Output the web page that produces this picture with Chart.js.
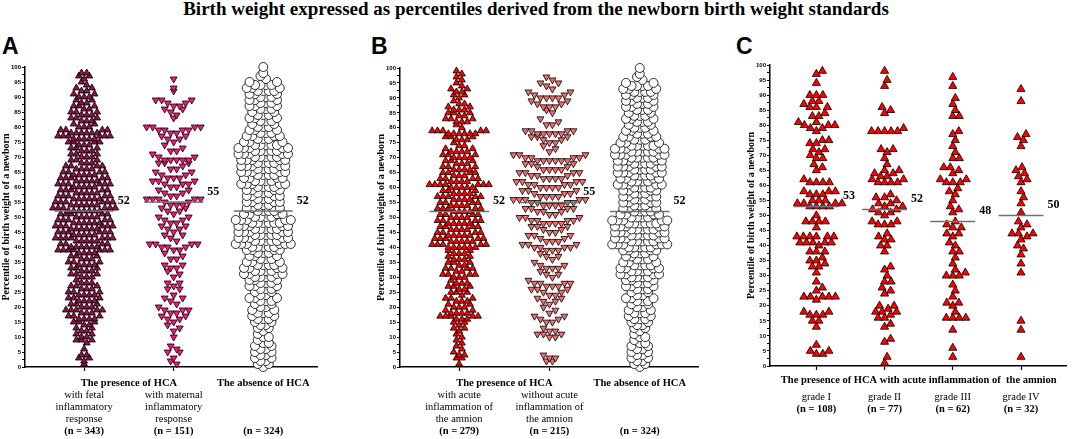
<!DOCTYPE html>
<html>
<head>
<meta charset="utf-8">
<title>Birth weight percentiles</title>
<script src="https://cdn.jsdelivr.net/npm/chart.js@4.4.1/dist/chart.umd.min.js"></script>
<style>
  html, body { margin: 0; padding: 0; background: #fff; }
  body { position: relative; width: 1072px; height: 439px; overflow: hidden; }
  #title { position: absolute; left: 0; top: -1px; width: 1072px; text-align: center;
           font: bold 19px/19px "Liberation Serif", serif; color: #000; white-space: nowrap; }
  .letter { position: absolute; top: 35px; font: bold 23px/23px "Liberation Sans", Arial, sans-serif; color: #000; }
  canvas { position: absolute; top: 30px; }
</style>
</head>
<body>
<div id="title">Birth weight expressed as percentiles derived from the newborn birth weight standards</div>
<div class="letter" style="left:2px">A</div>
<div class="letter" style="left:371px">B</div>
<div class="letter" style="left:736px">C</div>
<canvas id="panelA" width="357" height="409" style="left:0px"></canvas>
<canvas id="panelB" width="357" height="409" style="left:357px"></canvas>
<canvas id="panelC" width="358" height="409" style="left:714px"></canvas>
<script>
// percentiles, one value per newborn
const fetalInflammatory = [
  1,2,3,3,4,4,
  6,8,9,9,9,
  10,10,11,11,12,12,13,13,14,14,
  15,15,15,16,16,16,16,17,17,17,18,18,18,19,19,19,19,19,
  20,20,20,21,21,21,22,22,22,22,23,23,23,24,24,24,24,
  25,25,25,26,26,26,27,27,27,28,28,28,29,
  30,30,30,31,31,31,32,32,32,33,33,33,34,34,34,34,
  35,35,35,36,36,36,37,37,37,38,38,38,38,39,39,39,39,39,39,39,
  40,40,40,40,40,40,41,41,41,41,42,42,42,42,42,43,43,43,43,43,43,43,44,44,44,44,44,
  45,45,45,45,45,45,46,46,46,46,46,46,47,47,47,47,47,47,48,48,48,48,48,48,49,49,49,49,49,
  50,50,50,50,50,51,51,51,51,51,52,52,52,52,52,52,52,53,53,53,53,53,53,54,54,54,54,54,54,
  55,55,55,55,55,55,56,56,56,56,56,56,57,57,57,57,57,58,58,58,58,58,59,59,59,59,59,
  60,60,60,60,60,61,61,61,61,61,61,62,62,62,62,62,63,63,63,63,63,64,64,64,64,64,
  65,65,65,65,66,66,66,66,67,67,67,67,68,68,68,69,69,69,
  70,70,70,71,71,71,72,72,72,73,73,73,74,74,74,
  75,75,75,75,76,76,76,76,76,77,77,77,77,77,77,78,78,78,78,78,78,79,79,79,79,
  80,80,80,81,81,82,82,82,83,83,83,84,84,84,
  85,85,85,86,86,87,87,87,88,88,89,89,
  90,90,90,91,91,92,92,93,93,94,
  95,96,97,97,98,98
];
const maternalInflammatory = [
  1,2,3,5,5,6,7,
  10,12,13,14,
  15,16,16,17,17,18,18,19,19,19,
  20,21,22,23,23,24,
  26,26,27,28,28,
  30,31,32,33,33,34,34,
  36,36,37,38,39,39,
  40,40,40,41,41,41,41,42,43,44,44,
  45,46,46,47,47,48,48,49,49,
  50,50,51,52,52,53,53,54,54,54,
  55,55,56,56,56,56,56,57,57,58,58,59,59,
  60,60,61,61,61,62,62,62,63,63,63,64,64,
  65,65,66,66,67,68,68,68,69,69,69,69,69,
  70,70,71,72,72,73,74,
  75,76,76,77,77,78,78,79,79,79,79,
  80,80,80,80,83,84,
  85,86,86,87,87,88,88,89,89,89,
  92,93,96
];
const absenceOfHCA = [
  0,1,1,2,2,3,3,4,4,
  5,5,6,6,7,7,8,8,9,
  10,10,11,12,13,13,14,14,
  15,15,16,16,16,17,17,18,18,18,19,19,
  20,20,21,21,22,22,22,23,23,23,24,24,
  25,25,26,26,26,27,27,27,28,28,28,29,29,29,
  30,30,30,30,31,31,31,31,32,32,32,32,33,33,33,33,34,34,34,34,
  35,35,35,36,36,36,37,37,37,38,38,38,39,39,39,39,
  40,40,40,40,40,41,41,41,41,41,41,42,42,42,42,42,43,43,43,43,43,44,44,44,44,44,
  45,45,45,45,45,46,46,46,46,46,47,47,47,47,47,48,48,48,48,48,48,49,49,49,49,49,
  50,50,50,50,51,51,51,51,52,52,52,52,53,53,53,54,54,54,
  55,55,55,55,56,56,56,57,57,57,57,58,58,58,59,59,59,59,
  60,60,60,60,61,61,61,61,61,62,62,62,62,63,63,63,63,64,64,64,64,
  65,65,65,65,65,66,66,66,66,67,67,67,67,67,68,68,68,68,69,69,69,69,69,
  70,70,70,70,70,71,71,71,71,71,72,72,72,72,72,73,73,73,73,73,74,74,74,74,74,
  75,75,75,76,76,76,77,77,77,77,78,78,78,79,79,79,
  80,80,80,81,81,82,82,82,83,83,83,84,84,84,
  85,85,86,86,86,87,87,87,88,88,88,89,89,89,
  90,90,90,91,91,91,92,92,92,92,93,93,93,94,94,94,94,
  95,95,96,97,98,100
];
const withAcuteAmnion = [
  1,3,3,4,4,
  5,6,7,8,9,
  10,11,12,13,13,14,
  15,15,16,16,16,17,17,17,17,17,18,18,18,18,19,19,
  20,20,20,21,21,22,22,22,23,23,23,24,
  25,25,25,26,26,27,27,27,28,28,28,29,
  30,30,30,31,31,31,31,32,32,33,33,33,33,34,34,
  35,35,35,36,36,36,37,37,38,38,38,39,39,
  40,40,40,40,40,40,41,41,41,41,41,42,42,42,42,42,43,43,43,43,43,44,44,44,44,44,
  45,45,45,45,46,46,46,46,47,47,47,47,48,48,48,48,48,49,49,49,49,
  50,50,50,50,51,51,51,51,
  52,52,52,52,53,53,53,53,53,54,54,54,54,
  55,55,55,55,56,56,56,56,57,57,57,57,57,58,58,58,58,59,59,59,
  60,60,60,60,60,61,61,61,61,61,61,61,62,62,62,62,63,63,63,63,64,64,64,
  65,65,65,65,66,66,66,66,67,67,67,68,68,68,69,69,69,
  70,70,70,70,71,71,71,72,72,72,72,73,73,74,74,
  75,76,76,76,77,77,77,78,78,78,78,78,78,79,79,79,79,79,
  80,81,82,82,82,83,83,83,84,84,
  85,85,85,86,86,86,87,87,88,88,89,
  90,91,91,92,92,93,93,94,
  95,96,97,98,99
];
const withoutAcuteAmnion = [
  2,2,3,3,4,
  10,10,11,11,11,12,12,13,
  15,15,16,16,17,17,18,19,
  20,21,22,22,23,23,24,24,
  25,25,26,26,26,27,27,27,28,28,28,28,29,
  30,31,31,32,33,33,33,34,34,
  35,36,37,37,38,39,39,39,
  40,40,40,40,41,41,41,42,42,42,43,43,44,44,44,
  45,45,46,46,47,47,47,48,48,48,48,49,49,49,49,
  50,50,50,51,51,52,52,52,53,53,53,53,54,54,54,54,
  55,55,55,55,56,56,56,56,56,57,57,57,57,58,58,58,59,59,59,
  60,60,60,60,61,61,61,61,62,62,62,62,63,63,63,63,64,64,64,
  65,65,65,65,66,66,66,66,67,67,68,68,68,69,69,69,69,69,69,
  70,70,70,70,71,71,71,72,73,74,
  75,75,76,76,77,77,77,78,78,78,78,78,79,79,79,79,
  81,81,82,83,
  85,86,87,87,87,88,88,89,89,
  90,90,90,90,91,91,92,92,93,94,
  95,95,96,97
];
const gradeI = [
  4,4,5,5,7,13,15,15,17,17,17,18,18,22,23,23,23,23,23,25,26,28,
  31,33,33,34,35,35,36,38,38,38,40,41,41,41,41,41,43,43,43,43,43,43,46,48,48,48,48,
  50,53,53,53,53,54,54,54,54,55,55,55,57,57,57,58,58,58,61,61,61,61,62,65,66,67,69,69,
  70,71,72,72,74,74,75,75,78,79,79,80,80,80,81,81,83,83,84,86,86,86,87,88,88,90,90,90,94,97,98
];
const gradeII = [
  1,3,8,9,13,14,16,16,17,18,18,18,19,20,20,24,25,26,28,28,30,32,33,38,40,40,
  42,42,43,44,47,47,47,48,48,50,51,51,52,52,53,53,54,54,55,56,56,57,
  61,61,61,61,62,62,63,63,64,64,65,65,67,69,71,72,72,78,78,78,78,78,79,84,85,86,93,95,98
];
const gradeIII = [
  3,6,12,16,16,16,16,18,20,21,21,23,25,27,30,30,30,31,32,34,36,38,38,40,41,43,44,44,46,46,47,48,
  51,52,53,55,57,58,59,61,61,61,62,62,64,65,66,66,69,69,71,73,75,77,78,83,83,85,87,89,93,96
];
const gradeIV = [
  3,12,15,31,34,37,39,40,42,43,44,44,44,46,47,48,51,54,56,58,61,62,63,64,65,66,73,75,76,77,88,92
];

// medians as printed beside the lines
const mediansA = [52, 55, 52];
const mediansB = [52, 55, 52];
const mediansC = [53, 52, 48, 50];

const yMajorTicks = [0, 5, 10, 15, 20, 25, 30, 35, 40, 45, 50, 55, 60, 65, 70, 75, 80, 85, 90, 95, 100];
const yAxisTitle = 'Percentile of birth weight of a newborn';
const presenceHCA = 'The presence of HCA';
const absenceHCA = 'The absence of HCA';
const presenceAmnion = 'The presence of HCA with acute inflammation of  the amnion';
const labelsA = [['with fetal', 'inflammatory', 'response'], ['with maternal', 'inflammatory', 'response'], []];
const labelsB = [['with acute', 'inflammation of', 'the amnion'], ['without acute', 'inflammation of', 'the amnion'], []];
const labelsC = [['grade I'], ['grade II'], ['grade III'], ['grade IV']];

const medianHalf = 0.33;

const panels = [
  {
    canvas: 'panelA', padLeft: 0, padRight: 40, padTop: 37, axisHeight: 72, xMin: -0.66, xMax: 2.6,
    groups: [
      { values: fetalInflammatory, shape: 'triangle', rotation: 0, fill: '#8e1245', radius: 4, bin: 2, spacing: 5.2 },
      { values: maternalInflammatory, shape: 'triangle', rotation: 180, fill: '#fb167c', radius: 4, bin: 3, spacing: 6 },
      { values: absenceOfHCA, shape: 'circle', rotation: 0, fill: '#ffffff', radius: 4.5, bin: 2, spacing: 5.5 }
    ],
    medians: mediansA, labels: labelsA,
    headers: [{ text: presenceHCA, at: 0.5 }, { text: absenceHCA, at: 2 }],
    headerY: 353, labelY: 365, countY: 401
  },
  {
    canvas: 'panelB', padLeft: 18, padRight: 16, padTop: 38, axisHeight: 72, xMin: -0.655, xMax: 2.645,
    groups: [
      { values: withAcuteAmnion, shape: 'triangle', rotation: 0, fill: '#ff0000', radius: 4, bin: 2, spacing: 5.4 },
      { values: withoutAcuteAmnion, shape: 'triangle', rotation: 180, fill: '#f26d6d', radius: 4, bin: 3, spacing: 6 },
      { values: absenceOfHCA, shape: 'circle', rotation: 0, fill: '#ffffff', radius: 4.5, bin: 2, spacing: 5.5 }
    ],
    medians: mediansB, labels: labelsB,
    headers: [{ text: presenceHCA, at: 0.5 }, { text: absenceHCA, at: 2 }],
    headerY: 353, labelY: 365, countY: 401
  },
  {
    canvas: 'panelC', padLeft: 31, padRight: 2, padTop: 35, axisHeight: 73, xMin: -0.68, xMax: 3.667,
    groups: [
      { values: gradeI, shape: 'triangle', rotation: 0, fill: '#ff0000', radius: 4.7, gap: 6.4 },
      { values: gradeII, shape: 'triangle', rotation: 0, fill: '#ff0000', radius: 4.7, gap: 6.4 },
      { values: gradeIII, shape: 'triangle', rotation: 0, fill: '#ff0000', radius: 4.7, gap: 6.4 },
      { values: gradeIV, shape: 'triangle', rotation: 0, fill: '#ff0000', radius: 4.7, gap: 6.4 }
    ],
    medians: mediansC, labels: labelsC,
    headers: [{ text: presenceAmnion, at: 1.5 }],
    headerY: 350, labelY: 367, countY: 379
  }
];

// dense groups: values falling in the same band sit side by side, centred on the group
function swarmBands(values, pxPerUnit, center, bin, spacing) {
  const bands = {};
  values.forEach(v => {
    const b = Math.floor(v / bin);
    (bands[b] = bands[b] || []).push(v);
  });
  const out = [];
  Object.keys(bands).forEach(key => {
    const list = bands[key].slice().sort((a, b) => a - b);
    const n = list.length;
    const slots = [];
    for (let k = 0; k < n; k++) slots.push((k - (n - 1) / 2) * spacing);
    slots.sort((a, b) => Math.abs(a) - Math.abs(b) || b - a);
    list.forEach((v, k) => out.push({ x: center + slots[k] / pxPerUnit, y: v }));
  });
  return out;
}

// sparse groups: push each marker sideways until it no longer touches its neighbours
function swarmPack(values, yScale, pxPerUnit, center, gap) {
  const placed = [];
  values.slice().sort((a, b) => a - b).forEach(v => {
    const py = yScale.getPixelForValue(v);
    const near = placed.filter(q => Math.abs(q.py - py) < gap);
    let dx = 0;
    for (let k = 0; k < 4000; k++) {
      const c = k === 0 ? 0 : (k % 2 ? 1 : -1) * Math.ceil(k / 2) * 0.5;
      const free = near.every(q => (q.dx - c) ** 2 + (q.py - py) ** 2 >= gap * gap);
      if (free) { dx = c; break; }
    }
    placed.push({ v: v, py: py, dx: dx });
  });
  return placed.map(q => ({ x: center + q.dx / pxPerUnit, y: q.v }));
}

function textPlugin(p) {
  return {
    id: 'panelText',
    afterDraw(chart) {
      const ctx = chart.ctx, xs = chart.scales.x, ys = chart.scales.y;
      ctx.save();
      ctx.fillStyle = '#000';
      ctx.textBaseline = 'middle';
      ctx.textAlign = 'left';
      ctx.font = 'bold 12px "Liberation Serif"';
      p.medians.forEach((m, i) => {
        ctx.fillText(String(m), xs.getPixelForValue(i + medianHalf) + 4, ys.getPixelForValue(m) - 10.5);
      });
      ctx.textAlign = 'center';
      ctx.font = 'bold 10.5px "Liberation Serif"';
      p.headers.forEach(h => ctx.fillText(h.text, xs.getPixelForValue(h.at), p.headerY));
      p.labels.forEach((lines, i) => {
        const cx = xs.getPixelForValue(i);
        ctx.font = '10.5px "Liberation Serif"';
        lines.forEach((t, k) => ctx.fillText(t, cx, p.labelY + k * 12));
        ctx.font = 'bold 10.5px "Liberation Serif"';
        ctx.fillText('(n = ' + p.groups[i].values.length + ')', cx, p.countY);
      });
      ctx.restore();
    }
  };
}

function makePanel(p) {
  const datasets = p.groups.map((g, i) => ({
    data: g.values.map(v => ({ x: i, y: v })),
    pointStyle: g.shape,
    rotation: g.rotation,
    pointRadius: g.radius,
    pointBackgroundColor: g.fill,
    pointBorderColor: '#000',
    pointBorderWidth: 0.8,
    clip: false,
    order: 0
  }));
  p.medians.forEach((m, i) => {
    datasets.push({
      data: [{ x: i - medianHalf, y: m }, { x: i + medianHalf, y: m }],
      showLine: true,
      borderColor: '#707070',
      borderWidth: 1.5,
      pointRadius: 0,
      clip: false,
      order: -1
    });
  });

  const chart = new Chart(document.getElementById(p.canvas), {
    type: 'scatter',
    data: { datasets: datasets },
    options: {
      responsive: false,
      animation: false,
      events: [],
      layout: { padding: { left: p.padLeft, right: p.padRight, top: p.padTop, bottom: 0 } },
      plugins: { legend: { display: false }, tooltip: { enabled: false } },
      scales: {
        x: {
          type: 'linear', min: p.xMin, max: p.xMax,
          afterBuildTicks: s => { s.ticks = p.groups.map((g, i) => ({ value: i })); },
          afterFit: s => { s.height = p.axisHeight; },
          ticks: { callback: () => '', autoSkip: false },
          grid: { drawOnChartArea: false, tickLength: 4, tickColor: '#000', tickWidth: 1.2 },
          border: { color: '#000', width: 1.5 }
        },
        y: {
          min: 0, max: 100,
          afterBuildTicks: s => {
            const t = [];
            yMajorTicks.forEach((v, k) => {
              t.push({ value: v });
              if (k < yMajorTicks.length - 1) t.push({ value: (v + yMajorTicks[k + 1]) / 2 });
            });
            s.ticks = t;
          },
          afterFit: s => { s.width = 25; },
          ticks: {
            autoSkip: false, padding: 1, color: '#000',
            font: { family: '"Liberation Sans", Arial, sans-serif', size: 6, weight: 'bold' },
            callback: v => (yMajorTicks.indexOf(v) >= 0 ? String(v) : '')
          },
          grid: { drawOnChartArea: false, tickLength: 3, tickColor: '#000', tickWidth: 1 },
          border: { color: '#000', width: 1.5 },
          title: {
            display: true, text: yAxisTitle, color: '#000', padding: 0,
            font: { family: '"Liberation Serif", serif', size: 10, weight: 'bold' }
          }
        }
      }
    },
    plugins: [textPlugin(p)]
  });

  const xs = chart.scales.x, ys = chart.scales.y;
  const pxPerUnit = xs.getPixelForValue(1) - xs.getPixelForValue(0);
  p.groups.forEach((g, i) => {
    chart.data.datasets[i].data = g.gap
      ? swarmPack(g.values, ys, pxPerUnit, i, g.gap)
      : swarmBands(g.values, pxPerUnit, i, g.bin, g.spacing);
  });
  chart.update('none');
  return chart;
}

panels.forEach(makePanel);
</script>
</body>
</html>
